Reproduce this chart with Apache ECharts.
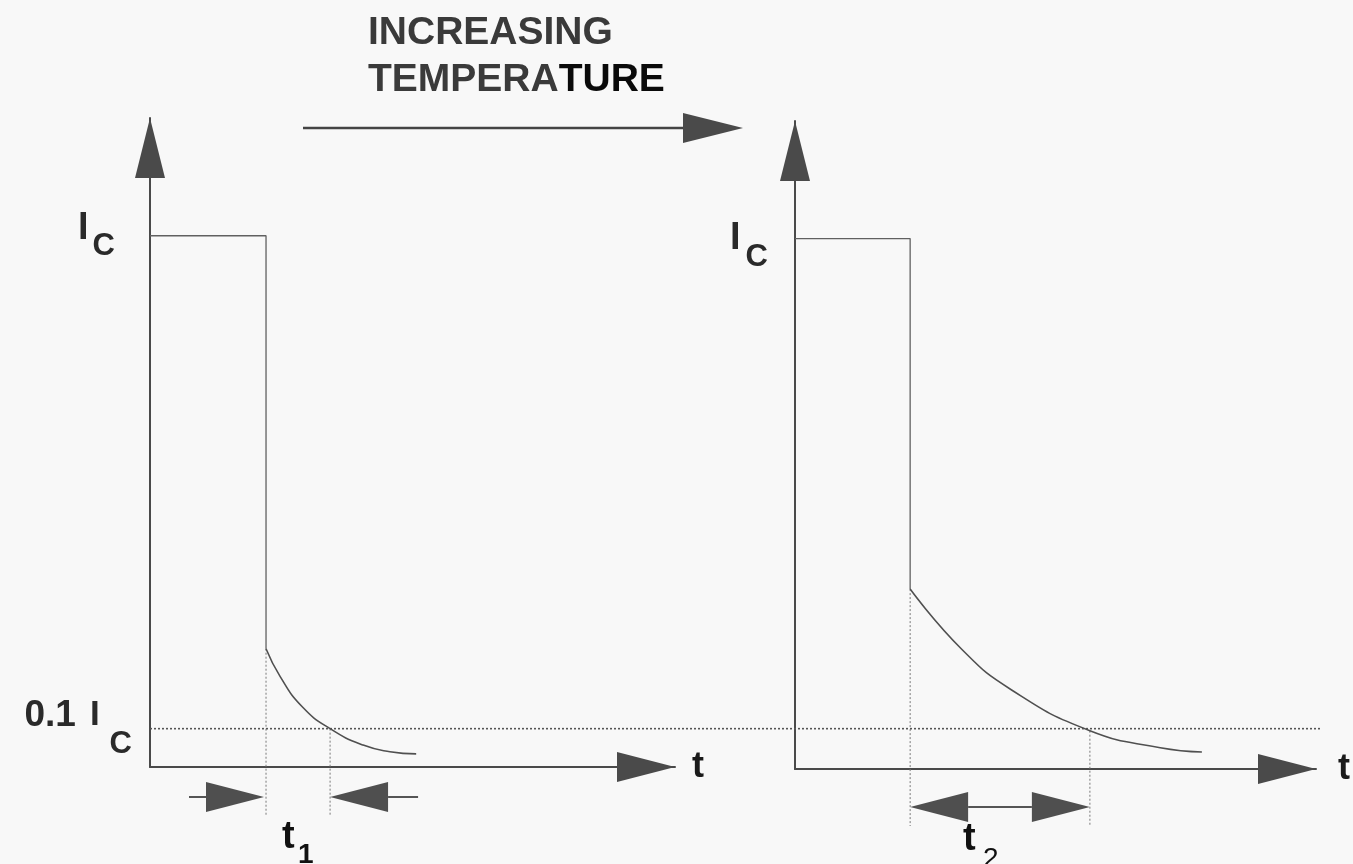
<!DOCTYPE html>
<html>
<head>
<meta charset="utf-8">
<title>Collector current decay with increasing temperature</title>
<script src="https://cdn.jsdelivr.net/npm/echarts@6/dist/echarts.min.js"></script>
<style>
  html, body { margin: 0; padding: 0; background: #f8f8f8; }
  #chart { width: 1353px; height: 864px; }
</style>
</head>
<body>
<div id="chart"></div>
<script>
const FONT = '"Liberation Sans", Arial, Helvetica, sans-serif';

// current in units of Ic, time in arbitrary units
const IC = 1;
const THRESHOLD = 0.1;
const Y_MIN = 0.03;
const Y_MAX = 1.215;
const T_MAX = 10;

// low temperature: pulse then tail
const pulseLow = [[0, 1], [2.21, 1], [2.21, 0.246]];
const decayLow = [
  [2.21, 0.246], [2.48, 0.195], [2.9, 0.14],
  [3.43, 0.1], [4.06, 0.07], [4.57, 0.058], [5.07, 0.054]
];
const spanLow = [[2.21, 3.43, 0.246]]; // drop time, time at 0.1 Ic, tail start

// high temperature: longer tail
const pulseHigh = [[0, 1], [2.21, 1], [2.21, 0.359]];
const decayHigh = [
  [2.21, 0.359], [3.2, 0.249], [4.15, 0.175],
  [5.66, 0.1], [7.01, 0.069], [7.81, 0.061]
];
const spanHigh = [[2.21, 5.66, 0.359]];

const thresholdLine = [[0, THRESHOLD], [1, THRESHOLD]];

const chart = echarts.init(document.getElementById('chart'), null, { renderer: 'canvas' });

const axisColor = '#4a4a4a';
const labelColor = '#2a2a2a';

function xAxisFor(gridIndex, nameGap) {
  return {
    type: 'value', gridIndex: gridIndex, min: 0, max: T_MAX,
    name: 't', nameLocation: 'end', nameGap: nameGap,
    nameTextStyle: { fontFamily: FONT, fontSize: 36, fontWeight: 'bold', color: '#1a1a1a', padding: [6, 0, 0, 0] },
    axisLine: {
      onZero: false, symbol: ['none', 'triangle'], symbolSize: [30, 58], symbolOffset: [0, -29],
      lineStyle: { color: axisColor, width: 2 }
    },
    axisTick: { show: false }, axisLabel: { show: false }, splitLine: { show: false }
  };
}

function yAxisFor(gridIndex, label) {
  return {
    type: 'value', gridIndex: gridIndex, min: Y_MIN, max: Y_MAX,
    axisLine: {
      show: true, onZero: false, symbol: ['none', 'triangle'], symbolSize: [30, 60], symbolOffset: [0, -30],
      lineStyle: { color: axisColor, width: 2 }
    },
    axisTick: { show: false }, splitLine: { show: false },
    axisLabel: label
  };
}

const txt = { fontFamily: FONT, fontWeight: 'bold', color: labelColor };

// left panel labels: Ic and 0.1 Ic
const leftLabel = {
  show: true,
  customValues: [THRESHOLD, IC],
  margin: 18,
  formatter: function (v) {
    return v === IC ? '{i|I}{g| }{c|C}{s| }' : '{n|0.1}{g2| }{i2|I}{g3| }{c|C}{s2| }';
  },
  rich: {
    i: Object.assign({ fontSize: 38, lineHeight: 38, verticalAlign: 'top' }, txt),
    i2: Object.assign({ fontSize: 35, lineHeight: 35, verticalAlign: 'top' }, txt),
    n: Object.assign({ fontSize: 37, lineHeight: 35, verticalAlign: 'top' }, txt),
    c: Object.assign({ fontSize: 31, lineHeight: 30, verticalAlign: 'bottom' }, txt),
    g: { width: 4, fontSize: 10 },
    g2: { width: 14, fontSize: 10 },
    g3: { width: 10, fontSize: 10 },
    s: { width: 17, lineHeight: 52, fontSize: 10 },
    s2: { width: 0, lineHeight: 62, fontSize: 10 }
  }
};

const rightLabel = {
  show: true,
  customValues: [IC],
  margin: 27,
  formatter: function () { return '{i|I}{g| }{c|C}{s| }'; },
  rich: {
    i: Object.assign({ fontSize: 38, lineHeight: 38, verticalAlign: 'middle' }, txt),
    c: Object.assign({ fontSize: 31, lineHeight: 30, verticalAlign: 'bottom' }, txt),
    g: { width: 5, fontSize: 10 },
    s: { width: 0, lineHeight: 68, fontSize: 10 }
  }
};

// guides, t1 / t2 dimension arrows below the time axis
function spanRenderer(o) {
  return function (params, api) {
    const a = api.coord([api.value(0), api.value(2)]);
    const b = api.coord([api.value(1), THRESHOLD]);
    const base = api.coord([0, Y_MIN])[1];
    const yGuide = base + o.guideLen;
    const yArrow = base + o.arrowDrop;
    const guide = { stroke: '#7a7a7a', lineWidth: 1, lineDash: [2, 2] };
    const L = 58, H = 15;
    const tri = function (tip, dir) {
      return { type: 'polygon', shape: { points: [[tip, yArrow], [tip - dir * L, yArrow - H], [tip - dir * L, yArrow + H]] }, style: { fill: '#4f4f4f' } };
    };
    const seg = function (x1, x2) {
      return { type: 'line', shape: { x1: x1, y1: yArrow, x2: x2, y2: yArrow }, style: { stroke: '#555', lineWidth: 2 } };
    };
    const kids = [
      { type: 'line', shape: { x1: a[0], y1: a[1], x2: a[0], y2: yGuide }, style: guide },
      { type: 'line', shape: { x1: b[0], y1: b[1], x2: b[0], y2: yGuide }, style: guide }
    ];
    if (o.inward) {
      const ta = a[0] - 2;
      kids.push(seg(ta - L - 17, ta - L), tri(ta, 1), seg(b[0] + L, b[0] + L + 30), tri(b[0], -1));
    } else {
      kids.push(seg(a[0] + L, b[0] - L), tri(a[0], -1), tri(b[0], 1));
    }
    const mid = (a[0] + b[0]) / 2;
    kids.push(
      { type: 'text', style: { x: mid + o.tDx, y: base + o.tDy, text: 't', fontFamily: FONT, fontSize: 38, fontWeight: 'bold', fill: '#111', align: 'left', verticalAlign: 'middle' } },
      { type: 'text', style: { x: mid + o.subDx, y: base + o.subDy, text: o.sub, fontFamily: FONT, fontSize: 28, fontWeight: o.subWeight, fill: '#111', align: 'left', verticalAlign: 'middle' } }
    );
    return { type: 'group', children: kids };
  };
}

const pulseStyle = { color: '#606060', width: 1.3 };
const decayStyle = { color: '#505050', width: 1.6 };

const option = {
  backgroundColor: '#f8f8f8',
  animation: false,
  grid: [
    { left: 150, top: 118, width: 525, bottom: 97 },
    { left: 795, top: 121, width: 525, bottom: 95 },
    { left: 150, top: 118, width: 1172, bottom: 97 }
  ],
  xAxis: [
    xAxisFor(0, 17),
    xAxisFor(1, 22),
    { type: 'value', gridIndex: 2, min: 0, max: 1, show: false }
  ],
  yAxis: [
    yAxisFor(0, leftLabel),
    yAxisFor(1, rightLabel),
    { type: 'value', gridIndex: 2, min: Y_MIN, max: Y_MAX, show: false }
  ],
  graphic: [
    {
      type: 'text', left: 368, top: 14,
      style: {
        text: '{a|INCREASING}\n{a|TEMPERA}{b|TURE}',
        rich: {
          a: { fontFamily: FONT, fontSize: 39, fontWeight: 'bold', lineHeight: 47, fill: '#3a3a3a' },
          b: { fontFamily: FONT, fontSize: 39, fontWeight: 'bold', lineHeight: 47, fill: '#0a0a0a' }
        }
      }
    },
    { type: 'line', shape: { x1: 303, y1: 128, x2: 690, y2: 128 }, style: { stroke: '#444', lineWidth: 2.5 } },
    { type: 'polygon', shape: { points: [[683, 113], [743, 128], [683, 143]] }, style: { fill: '#4a4a4a' } }
  ],
  series: [
    { name: '0.1 Ic', type: 'line', xAxisIndex: 2, yAxisIndex: 2, data: thresholdLine, showSymbol: false,
      lineStyle: { color: '#555', width: 1.6, type: [2, 2] }, silent: true },
    { name: 'pulse low T', type: 'line', xAxisIndex: 0, yAxisIndex: 0, data: pulseLow, showSymbol: false, lineStyle: pulseStyle },
    { name: 'tail low T', type: 'line', xAxisIndex: 0, yAxisIndex: 0, data: decayLow, showSymbol: false, smooth: 0.5, lineStyle: decayStyle },
    { name: 'pulse high T', type: 'line', xAxisIndex: 1, yAxisIndex: 1, data: pulseHigh, showSymbol: false, lineStyle: pulseStyle },
    { name: 'tail high T', type: 'line', xAxisIndex: 1, yAxisIndex: 1, data: decayHigh, showSymbol: false, smooth: 0.5, lineStyle: decayStyle },
    { name: 't1', type: 'custom', xAxisIndex: 0, yAxisIndex: 0, data: spanLow, silent: true,
      renderItem: spanRenderer({ inward: true, guideLen: 48, arrowDrop: 30, tDx: -16, tDy: 71, subDx: 0, subDy: 88, sub: '1', subWeight: 'bold' }) },
    { name: 't2', type: 'custom', xAxisIndex: 1, yAxisIndex: 1, data: spanHigh, silent: true,
      renderItem: spanRenderer({ inward: false, guideLen: 57, arrowDrop: 38, tDx: -37, tDy: 71, subDx: -17, subDy: 90, sub: '2', subWeight: 'normal' }) }
  ]
};

chart.setOption(option);
window.addEventListener('resize', chart.resize);
</script>
</body>
</html>
